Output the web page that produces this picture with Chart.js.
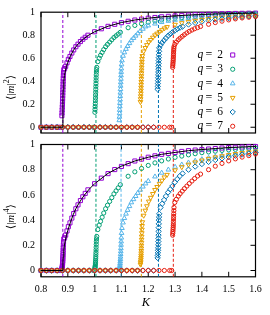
<!DOCTYPE html>
<html>
<head>
<meta charset="utf-8">
<script src="https://cdn.jsdelivr.net/npm/chart.js@4.4.1/dist/chart.umd.min.js"></script>
<style>
  html, body { margin: 0; padding: 0; background: #fff; }
  #wrap { position: relative; width: 270px; height: 315px; overflow: hidden; }
  canvas { position: absolute; left: 0; }
  #top { top: 0; }
  #bottom { top: 124px; }
</style>
</head>
<body>
<div id="wrap">
  <canvas id="top" width="270" height="145"></canvas>
  <canvas id="bottom" width="270" height="191"></canvas>
</div>
<script>
// q values and critical couplings (dashed lines)
const qValues = [2, 3, 4, 5, 6, 7];
const kcValues = [0.8814, 1.0050, 1.0986, 1.1743, 1.2381, 1.2935];

// tick labels
const xTicks = [0.8, 0.9, 1.0, 1.1, 1.2, 1.3, 1.4, 1.5, 1.6];
const xTickLabels = ['0.8', '0.9', '1', '1.1', '1.2', '1.3', '1.4', '1.5', '1.6'];
const yTicks = [0, 0.2, 0.4, 0.6, 0.8, 1];
const yTickLabels = ['0', '0.2', '0.4', '0.6', '0.8', '1'];

// exact q=2 curve (black line)
const lineK = [0.8, 0.8814, 0.8816, 0.882, 0.883, 0.885, 0.8875, 0.89, 0.895, 0.9, 0.91, 0.92, 0.93, 0.94, 0.95, 0.96, 0.98, 1.0, 1.05, 1.1, 1.15, 1.2, 1.25, 1.3, 1.35, 1.4, 1.45, 1.5, 1.55, 1.6];
const lineM2 = [0, 0, 0.2, 0.26, 0.33, 0.40, 0.45, 0.48, 0.53, 0.565, 0.62, 0.665, 0.70, 0.727, 0.75, 0.77, 0.804, 0.83, 0.878, 0.91, 0.932, 0.948, 0.96, 0.968, 0.975, 0.98, 0.984, 0.988, 0.99, 0.992];
const lineM4 = [0, 0, 0.04, 0.068, 0.109, 0.16, 0.2025, 0.23, 0.281, 0.319, 0.384, 0.442, 0.49, 0.529, 0.5625, 0.593, 0.646, 0.689, 0.771, 0.828, 0.869, 0.899, 0.922, 0.937, 0.951, 0.96, 0.968, 0.976, 0.98, 0.984];

// q = 2
const kQ2 = [0.80, 0.82, 0.84, 0.86, 0.875,
  0.878, 0.8785, 0.879, 0.8795, 0.880, 0.8803, 0.8806, 0.881, 0.8813, 0.8816, 0.882, 0.8823, 0.8826, 0.883, 0.8835, 0.884, 0.885,
  0.888, 0.892, 0.897, 0.902, 0.908, 0.915, 0.922, 0.930, 0.938, 0.947, 0.956, 0.965, 0.975,
  1.0, 1.025, 1.05, 1.075, 1.1, 1.125, 1.15, 1.175, 1.2, 1.225, 1.25, 1.275, 1.3, 1.325, 1.35, 1.375, 1.4, 1.425, 1.45, 1.475, 1.5, 1.525, 1.55, 1.575, 1.6];
const m2Q2 = [0, 0, 0, 0, 0,
  0.10, 0.125, 0.15, 0.175, 0.20, 0.225, 0.25, 0.275, 0.30, 0.325, 0.35, 0.375, 0.40, 0.425, 0.45, 0.475, 0.50,
  0.51, 0.53, 0.56, 0.59, 0.615, 0.645, 0.672, 0.70, 0.722, 0.745, 0.765, 0.782, 0.80,
  0.83, 0.856, 0.877, 0.895, 0.909, 0.921, 0.932, 0.94, 0.948, 0.954, 0.96, 0.964, 0.968, 0.972, 0.975, 0.978, 0.98, 0.982, 0.984, 0.986, 0.988, 0.989, 0.99, 0.991, 0.992];
const m4Q2 = [0, 0, 0, 0, 0,
  0.01, 0.016, 0.0225, 0.031, 0.04, 0.051, 0.0625, 0.076, 0.09, 0.106, 0.1225, 0.141, 0.16, 0.181, 0.2025, 0.226, 0.25,
  0.26, 0.281, 0.314, 0.348, 0.378, 0.416, 0.452, 0.49, 0.521, 0.555, 0.585, 0.612, 0.64,
  0.689, 0.733, 0.769, 0.801, 0.826, 0.848, 0.869, 0.884, 0.899, 0.91, 0.922, 0.929, 0.937, 0.945, 0.951, 0.956, 0.96, 0.964, 0.968, 0.972, 0.976, 0.978, 0.98, 0.982, 0.984];

// q = 3
const kQ3 = [0.80, 0.82, 0.84, 0.86, 0.88, 0.90, 0.92, 0.94, 0.96, 0.98, 0.995,
  1.001, 1.0015, 1.002, 1.0025, 1.003, 1.0033, 1.0036, 1.004, 1.0043, 1.0046, 1.005, 1.0053, 1.0056, 1.006, 1.0065, 1.007, 1.008,
  1.012, 1.017, 1.022, 1.028, 1.034, 1.041, 1.048, 1.056, 1.064, 1.072, 1.08, 1.088, 1.096,
  1.125, 1.15, 1.175, 1.2, 1.225, 1.25, 1.275, 1.3, 1.325, 1.35, 1.375, 1.4, 1.425, 1.45, 1.475, 1.5, 1.525, 1.55, 1.575, 1.6];
const m2Q3 = [0, 0, 0, 0, 0, 0, 0, 0, 0, 0, 0,
  0.13, 0.155, 0.18, 0.205, 0.23, 0.255, 0.28, 0.305, 0.33, 0.355, 0.38, 0.405, 0.43, 0.455, 0.48, 0.50, 0.52,
  0.57, 0.60, 0.625, 0.65, 0.675, 0.70, 0.72, 0.74, 0.76, 0.78, 0.795, 0.81, 0.825,
  0.865, 0.885, 0.9, 0.913, 0.924, 0.933, 0.941, 0.948, 0.953, 0.958, 0.963, 0.967, 0.97, 0.973, 0.976, 0.978, 0.98, 0.982, 0.984, 0.985];
const m4Q3 = [0, 0, 0, 0, 0, 0, 0, 0, 0, 0, 0,
  0.017, 0.024, 0.032, 0.042, 0.053, 0.065, 0.078, 0.093, 0.109, 0.126, 0.144, 0.164, 0.185, 0.207, 0.23, 0.25, 0.27,
  0.325, 0.36, 0.39, 0.423, 0.456, 0.49, 0.518, 0.548, 0.578, 0.608, 0.632, 0.656, 0.681,
  0.748, 0.783, 0.81, 0.834, 0.854, 0.87, 0.885, 0.898, 0.908, 0.918, 0.927, 0.935, 0.941, 0.947, 0.953, 0.957, 0.961, 0.965, 0.968, 0.971];

// q = 4
const kQ4 = [0.80, 0.82, 0.84, 0.86, 0.88, 0.90, 0.92, 0.94, 0.96, 0.98, 1.00, 1.02, 1.04, 1.06, 1.08,
  1.092, 1.0925, 1.093, 1.0935, 1.094, 1.0945, 1.095, 1.0955, 1.096, 1.0965, 1.097, 1.0975, 1.098, 1.0985, 1.099, 1.0995, 1.1005, 1.102,
  1.106, 1.111, 1.117, 1.123, 1.13, 1.137, 1.145, 1.153, 1.161, 1.17, 1.18, 1.19,
  1.2, 1.225, 1.25, 1.275, 1.3, 1.325, 1.35, 1.375, 1.4, 1.425, 1.45, 1.475, 1.5, 1.525, 1.55, 1.575, 1.6];
const m2Q4 = [0, 0, 0, 0, 0, 0, 0, 0, 0, 0, 0, 0, 0, 0, 0,
  0.06, 0.09, 0.12, 0.15, 0.18, 0.21, 0.24, 0.27, 0.30, 0.33, 0.36, 0.39, 0.42, 0.45, 0.48, 0.51, 0.545, 0.58,
  0.62, 0.65, 0.68, 0.705, 0.73, 0.755, 0.775, 0.795, 0.815, 0.835, 0.855, 0.875,
  0.884, 0.9, 0.913, 0.924, 0.933, 0.941, 0.947, 0.953, 0.958, 0.962, 0.966, 0.969, 0.972, 0.974, 0.976, 0.978, 0.98];
const m4Q4 = [0, 0, 0, 0, 0, 0, 0, 0, 0, 0, 0, 0, 0, 0, 0,
  0.004, 0.008, 0.014, 0.0225, 0.032, 0.044, 0.058, 0.073, 0.09, 0.109, 0.13, 0.152, 0.176, 0.203, 0.23, 0.26, 0.297, 0.336,
  0.38, 0.415, 0.45, 0.48, 0.51, 0.54, 0.565, 0.59, 0.615, 0.64, 0.665, 0.69,
  0.71, 0.745, 0.775, 0.8, 0.822, 0.84, 0.856, 0.87, 0.882, 0.893, 0.903, 0.912, 0.92, 0.927, 0.933, 0.939, 0.945];

// q = 5
const kQ5 = [0.80, 0.82, 0.84, 0.86, 0.88, 0.90, 0.92, 0.94, 0.96, 0.98, 1.00, 1.02, 1.04, 1.06, 1.08, 1.10, 1.12, 1.14, 1.16,
  1.171, 1.1715, 1.172, 1.1725, 1.173, 1.1733, 1.1736, 1.174, 1.1743, 1.1746, 1.175, 1.1753, 1.1756, 1.176, 1.1765, 1.177, 1.178,
  1.183, 1.189, 1.195, 1.202, 1.209, 1.217, 1.225, 1.233, 1.242, 1.251, 1.26, 1.27,
  1.3, 1.325, 1.35, 1.375, 1.4, 1.425, 1.45, 1.475, 1.5, 1.525, 1.55, 1.575, 1.6];
const m2Q5 = [0, 0, 0, 0, 0, 0, 0, 0, 0, 0, 0, 0, 0, 0, 0, 0, 0, 0, 0,
  0.22, 0.245, 0.27, 0.295, 0.32, 0.345, 0.37, 0.395, 0.42, 0.445, 0.47, 0.495, 0.52, 0.545, 0.57, 0.595, 0.62,
  0.66, 0.69, 0.715, 0.74, 0.76, 0.78, 0.80, 0.815, 0.83, 0.845, 0.86, 0.872,
  0.892, 0.906, 0.917, 0.927, 0.935, 0.942, 0.948, 0.953, 0.958, 0.962, 0.966, 0.969, 0.972];
const m4Q5 = [0, 0, 0, 0, 0, 0, 0, 0, 0, 0, 0, 0, 0, 0, 0, 0, 0, 0, 0,
  0.048, 0.06, 0.073, 0.087, 0.102, 0.119, 0.137, 0.156, 0.176, 0.198, 0.221, 0.245, 0.27, 0.297, 0.325, 0.354, 0.384,
  0.436, 0.476, 0.511, 0.548, 0.578, 0.608, 0.64, 0.664, 0.689, 0.714, 0.74, 0.76,
  0.796, 0.821, 0.841, 0.859, 0.874, 0.887, 0.899, 0.908, 0.917, 0.925, 0.933, 0.939, 0.945];

// q = 6
const kQ6 = [0.80, 0.82, 0.84, 0.86, 0.88, 0.90, 0.92, 0.94, 0.96, 0.98, 1.00, 1.02, 1.04, 1.06, 1.08, 1.10, 1.12, 1.14, 1.16, 1.18, 1.20, 1.22,
  1.235, 1.2355, 1.236, 1.2365, 1.237, 1.2373, 1.2376, 1.238, 1.2383, 1.2386, 1.239, 1.2393, 1.2396, 1.2403, 1.241,
  1.246, 1.252, 1.259, 1.266, 1.274, 1.282, 1.29, 1.299, 1.308, 1.318, 1.328,
  1.35, 1.375, 1.4, 1.425, 1.45, 1.475, 1.5, 1.525, 1.55, 1.575, 1.6];
const m2Q6 = [0, 0, 0, 0, 0, 0, 0, 0, 0, 0, 0, 0, 0, 0, 0, 0, 0, 0, 0, 0, 0, 0,
  0.33, 0.355, 0.38, 0.405, 0.43, 0.455, 0.48, 0.505, 0.53, 0.555, 0.58, 0.605, 0.63, 0.66, 0.69,
  0.715, 0.735, 0.755, 0.775, 0.795, 0.81, 0.825, 0.84, 0.853, 0.865, 0.875,
  0.893, 0.907, 0.918, 0.928, 0.936, 0.943, 0.949, 0.955, 0.96, 0.964, 0.968];
const m4Q6 = [0, 0, 0, 0, 0, 0, 0, 0, 0, 0, 0, 0, 0, 0, 0, 0, 0, 0, 0, 0, 0, 0,
  0.10, 0.12, 0.14, 0.16, 0.18, 0.205, 0.23, 0.255, 0.28, 0.31, 0.34, 0.37, 0.40, 0.425, 0.45,
  0.50, 0.53, 0.56, 0.59, 0.62, 0.645, 0.67, 0.70, 0.725, 0.75, 0.77,
  0.80, 0.825, 0.845, 0.862, 0.877, 0.89, 0.901, 0.911, 0.92, 0.928, 0.936];

// q = 7
const kQ7 = [0.80, 0.82, 0.84, 0.86, 0.88, 0.90, 0.92, 0.94, 0.96, 0.98, 1.00, 1.02, 1.04, 1.06, 1.08, 1.10, 1.12, 1.14, 1.16, 1.18, 1.20, 1.22, 1.24, 1.26, 1.28, 1.2875,
  1.291, 1.2915, 1.292, 1.2925, 1.293, 1.2933, 1.2936, 1.294, 1.2943, 1.2946, 1.295, 1.2955, 1.296,
  1.299, 1.305, 1.312, 1.319, 1.327, 1.335, 1.344, 1.353, 1.363, 1.373, 1.384, 1.395,
  1.425, 1.45, 1.475, 1.5, 1.525, 1.55, 1.575, 1.6];
const m2Q7 = [0, 0, 0, 0, 0, 0, 0, 0, 0, 0, 0, 0, 0, 0, 0, 0, 0, 0, 0, 0, 0, 0, 0, 0, 0, 0,
  0.52, 0.535, 0.55, 0.565, 0.58, 0.595, 0.61, 0.625, 0.64, 0.655, 0.67, 0.685, 0.70,
  0.72, 0.74, 0.76, 0.775, 0.79, 0.805, 0.82, 0.833, 0.845, 0.856, 0.866, 0.876,
  0.895, 0.91, 0.922, 0.933, 0.942, 0.95, 0.956, 0.962];
const m4Q7 = [0, 0, 0, 0, 0, 0, 0, 0, 0, 0, 0, 0, 0, 0, 0, 0, 0, 0, 0, 0, 0, 0, 0, 0, 0, 0,
  0.28, 0.295, 0.31, 0.325, 0.34, 0.355, 0.37, 0.39, 0.41, 0.43, 0.45, 0.475, 0.50,
  0.54, 0.565, 0.59, 0.61, 0.63, 0.65, 0.67, 0.69, 0.71, 0.73, 0.75, 0.765,
  0.80, 0.828, 0.85, 0.87, 0.886, 0.9, 0.912, 0.925];

const kLists = [kQ2, kQ3, kQ4, kQ5, kQ6, kQ7];
const m2Lists = [m2Q2, m2Q3, m2Q4, m2Q5, m2Q6, m2Q7];
const m4Lists = [m4Q2, m4Q3, m4Q4, m4Q5, m4Q6, m4Q7];

// styles
const colors = ['#9400d3', '#009e73', '#56b4e9', '#e69f00', '#0072b2', '#e51e10'];
const markers = ['rect', 'circle', 'triangle', 'triangle', 'rectRot', 'circle'];
const rotations = [0, 0, 0, 180, 0, 0];
const radii = [2.9, 2.1, 2.7, 2.7, 2.7, 2.1];
const Y_MIN = -0.05, Y_MAX = 1.0;
const SERIF = '"Liberation Serif", "DejaVu Serif", serif';

function pointData(ks, vals) {
    return ks.map((k, i) => ({ x: k, y: vals[i] }));
}

function buildDatasets(valueLists, lineVals) {
    const sets = [];
    // dashed critical lines
    kcValues.forEach((kc, i) => {
        sets.push({
            data: [{ x: kc, y: Y_MIN }, { x: kc, y: Y_MAX }],
            showLine: true, borderColor: colors[i], borderWidth: 1, borderDash: [3, 2],
            pointRadius: 0, order: 20 + i
        });
    });
    // simulation points
    qValues.forEach((q, i) => {
        sets.push({
            data: pointData(kLists[i], valueLists[i]),
            showLine: false, borderColor: colors[i], backgroundColor: 'rgba(0,0,0,0)',
            pointStyle: markers[i], pointRotation: rotations[i],
            pointRadius: radii[i], pointBorderWidth: 1, borderWidth: 1,
            order: 7 - i, clip: false
        });
    });
    // exact curve
    sets.push({
        data: pointData(lineK, lineVals),
        showLine: true, borderColor: '#000', borderWidth: 1, pointRadius: 0, order: 0, tension: 0
    });
    return sets;
}

// frame + inward ticks
const framePlugin = {
    id: 'frame',
    beforeDatasetsDraw(chart) {
        const ctx = chart.ctx, a = chart.chartArea;
        const xs = chart.scales.x, ys = chart.scales.y;
        ctx.save();
        ctx.strokeStyle = '#000';
        ctx.lineWidth = 1.2;
        ctx.strokeRect(a.left, a.top, a.right - a.left, a.bottom - a.top);
        ctx.lineWidth = 1;
        ctx.beginPath();
        xTicks.forEach(v => {
            const px = xs.getPixelForValue(v);
            ctx.moveTo(px, a.bottom); ctx.lineTo(px, a.bottom - 5);
            ctx.moveTo(px, a.top); ctx.lineTo(px, a.top + 5);
        });
        yTicks.forEach(v => {
            const py = ys.getPixelForValue(v);
            ctx.moveTo(a.right, py); ctx.lineTo(a.right - 5, py);
        });
        ctx.stroke();
        ctx.restore();
    }
};

function yTitlePlugin(power, centerY) {
    return {
        id: 'ytitle',
        afterDraw(chart) {
            const ctx = chart.ctx;
            const pieces = [
                ['\u27E8|', '11px ' + SERIF, 0],
                ['m', 'italic 11px ' + SERIF, 0],
                ['|', '11px ' + SERIF, 0],
                [power, '8px ' + SERIF, -4],
                ['\u27E9', '11px ' + SERIF, 0]
            ];
            ctx.save();
            ctx.translate(11, centerY);
            ctx.rotate(-Math.PI / 2);
            ctx.fillStyle = '#000';
            ctx.textBaseline = 'middle';
            let total = 0;
            pieces.forEach(p => { ctx.font = p[1]; total += ctx.measureText(p[0]).width; });
            let x = -total / 2;
            pieces.forEach(p => {
                ctx.font = p[1];
                ctx.fillText(p[0], x, p[2]);
                x += ctx.measureText(p[0]).width;
            });
            ctx.restore();
        }
    };
}

const legendPlugin = {
    id: 'qlegend',
    afterDraw(chart) {
        const ctx = chart.ctx;
        ctx.save();
        ctx.textBaseline = 'middle';
        qValues.forEach((q, i) => {
            const y = 55 + i * 14.25;
            ctx.fillStyle = '#000';
            ctx.font = 'italic 11.5px ' + SERIF;
            ctx.fillText('q', 197.5, y);
            ctx.font = '12px ' + SERIF;
            ctx.fillText('=', 205.5, y);
            ctx.font = '11.5px ' + SERIF;
            ctx.fillText(String(q), 217.3, y);
            ctx.strokeStyle = colors[i];
            ctx.fillStyle = 'rgba(0,0,0,0)';
            ctx.lineWidth = 1;
            Chart.helpers.drawPoint(ctx, {
                pointStyle: markers[i], radius: radii[i], rotation: rotations[i], borderWidth: 1
            }, 232.7, y);
        });
        ctx.restore();
    }
};

const xTitlePlugin = {
    id: 'xtitle',
    afterDraw(chart) {
        const ctx = chart.ctx;
        ctx.save();
        ctx.fillStyle = '#000';
        ctx.font = 'italic 12.5px ' + SERIF;
        ctx.textAlign = 'center';
        ctx.textBaseline = 'middle';
        ctx.fillText('K', 146, 179);
        ctx.restore();
    }
};

function makeChart(canvasId, valueLists, lineVals, isBottom, plugins) {
    return new Chart(document.getElementById(canvasId), {
        type: 'scatter',
        data: { datasets: buildDatasets(valueLists, lineVals) },
        options: {
            responsive: false,
            animation: false,
            devicePixelRatio: 1,
            events: [],
            layout: { padding: { top: isBottom ? 20.5 : 12.2, right: 14.5, left: 0, bottom: isBottom ? 0 : 0.5 } },
            plugins: { legend: { display: false }, tooltip: { enabled: false } },
            scales: {
                x: {
                    type: 'linear', min: 0.8, max: 1.6, display: isBottom,
                    grid: { display: false, drawTicks: false },
                    border: { display: false },
                    afterBuildTicks: s => { s.ticks = xTicks.map(v => ({ value: v })); },
                    afterFit: s => { s.height = isBottom ? 38.2 : 0; },
                    ticks: {
                        callback: (v, i) => xTickLabels[i],
                        font: { family: SERIF, size: 10 }, color: '#000',
                        padding: 7, maxRotation: 0, autoSkip: false
                    }
                },
                y: {
                    type: 'linear', min: Y_MIN, max: Y_MAX,
                    grid: { display: false, drawTicks: false },
                    border: { display: false },
                    afterBuildTicks: s => { s.ticks = yTicks.map(v => ({ value: v })); },
                    afterFit: s => { s.width = 41; },
                    ticks: {
                        callback: (v, i) => yTickLabels[i],
                        font: { family: SERIF, size: 10 }, color: '#000',
                        padding: 6, autoSkip: false
                    }
                }
            }
        },
        plugins: plugins
    });
}

makeChart('top', m2Lists, lineM2, false, [framePlugin, yTitlePlugin('2', 87.5), legendPlugin]);
makeChart('bottom', m4Lists, lineM4, true, [framePlugin, yTitlePlugin('4', 92.7), xTitlePlugin]);
</script>
</body>
</html>
